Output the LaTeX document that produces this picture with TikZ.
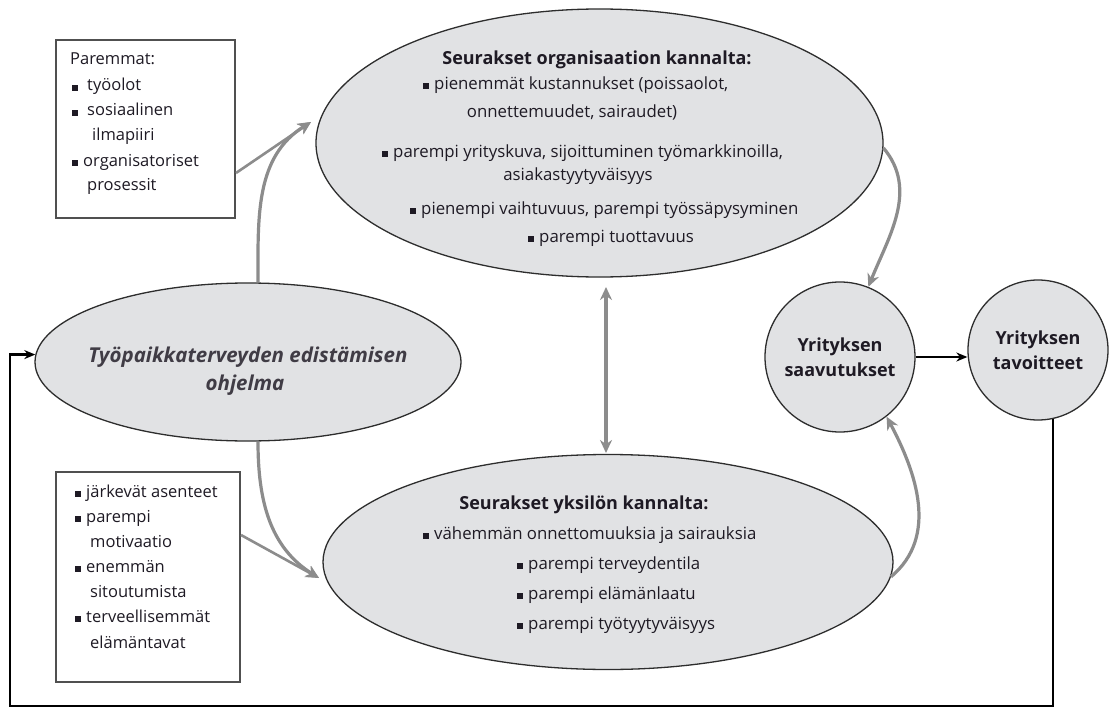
\documentclass[tikz,border=0pt]{standalone}
\usepackage{fontspec}
\setmainfont{Open Sans}
\usetikzlibrary{arrows.meta,shapes.geometric,calc}
\definecolor{elfill}{RGB}{225,226,228}
\definecolor{elline}{RGB}{45,45,45}
\definecolor{garrow}{RGB}{140,140,140}
\definecolor{txtc}{RGB}{30,26,36}
\definecolor{boxline}{RGB}{80,80,80}
\newcommand\bsq{\raisebox{0.5pt}{\rule{6pt}{6pt}}\hspace{5pt}}
\tikzset{
  ell/.style={ellipse,draw=elline,fill=elfill,line width=1.3pt,inner sep=0pt},
  circ/.style={circle,draw=elline,fill=elfill,line width=1.3pt,inner sep=0pt,minimum size=#1,
     align=center,font=\fontsize{18}{25}\selectfont\bfseries,text=txtc},
  rbox/.style={draw=boxline,line width=2pt,inner sep=0pt},
  txt/.style={inner sep=0pt,text=txtc,font=\fontsize{16.8}{19}\selectfont},
  btxt/.style={inner sep=0pt,text=txtc,font=\fontsize{16.5}{19}\selectfont},
  ttl/.style={inner sep=0pt,text=txtc,font=\fontsize{18}{21}\selectfont\bfseries},
  itl/.style={inner sep=0pt,text=txtc!85,font=\fontsize{20.5}{24}\selectfont\bfseries\itshape},
  garr/.style={draw=garrow,line width=3.2pt,-{Stealth[length=13pt,width=12pt]}},
  gline/.style={draw=garrow,line width=2.6pt,-{Stealth[length=13pt,width=12pt]}},
  barr/.style={draw=black,line width=2.2pt,-{Stealth[length=11pt,width=9pt]}},
  fb/.style={draw=black,line width=2.3pt,-{Stealth[length=11pt,width=9pt]}},
}
\begin{document}
\begin{tikzpicture}[x=1pt,y=-1pt]
\useasboundingbox (0,0) rectangle (1109,709);
\fill[white] (0,0) rectangle (1109,709);

% ellipses
\node[ell,minimum width=567,minimum height=268] (te) at (599.5,143) {};
\node[ell,minimum width=426,minimum height=158] (le) at (248,362) {};
\node[ell,minimum width=570,minimum height=215] (be) at (608,562) {};

% circles
\node[circ=150] (sa) at (840,357) {Yrityksen\\saavutukset};
\node[circ=140] (tv) at (1038,350) {Yrityksen\\tavoitteet};

% boxes
\node[rbox,minimum width=179,minimum height=178] (b1) at (145.5,129) {};
\node[rbox,minimum width=184,minimum height=210] (b2) at (148,577) {};

% top box text
\node[btxt,anchor=mid west] (b1t0) at (70,62) {Paremmat:};
\node[btxt,anchor=mid west] (b1t1) at (72,88) {\rule{6pt}{6pt}\hspace{9pt}työolot};
\node[btxt,anchor=mid west] (b1t2) at (72,113) {\rule{6pt}{6pt}\hspace{9pt}sosiaalinen};
\node[btxt,anchor=mid west] (b1t3) at (92,138) {ilmapiiri};
\node[btxt,anchor=mid west] (b1t4) at (72,164) {\bsq organisatoriset};
\node[btxt,anchor=mid west] (b1t5) at (87,188) {prosessit};

% bottom box text
\node[btxt,anchor=mid west] (b2t1) at (75,495) {\bsq järkevät asenteet};
\node[btxt,anchor=mid west] (b2t2) at (75,520) {\bsq parempi};
\node[btxt,anchor=mid west] (b2t3) at (90,545) {motivaatio};
\node[btxt,anchor=mid west] (b2t4) at (75,570) {\bsq enemmän};
\node[btxt,anchor=mid west] (b2t5) at (90,595) {sitoutumista};
\node[btxt,anchor=mid west] (b2t6) at (75,620) {\bsq terveellisemmät};
\node[btxt,anchor=mid west] (b2t7) at (90,646) {elämäntavat};

% top ellipse text
\node[ttl,anchor=mid] (tet0) at (597,62) {Seurakset organisaation kannalta:};
\node[txt,anchor=mid west] (tet1) at (423,87) {\bsq pienemmät kustannukset (poissaolot,};
\node[txt,anchor=mid] (tet2) at (572,115) {onnettemuudet, sairaudet)};
\node[txt,anchor=mid west] (tet3) at (382,155) {\bsq parempi yrityskuva, sijoittuminen työmarkkinoilla,};
\node[txt,anchor=mid] (tet4) at (578,178) {asiakastyytyväisyys};
\node[txt,anchor=mid west] (tet5) at (410,212) {\bsq pienempi vaihtuvuus, parempi työssäpysyminen};
\node[txt,anchor=mid west] (tet6) at (528,240) {\bsq parempi tuottavuus};

% bottom ellipse text
\node[ttl,anchor=mid] (bet0) at (584,507) {Seurakset yksilön kannalta:};
\node[txt,anchor=mid west] (bet1) at (423,537) {\bsq vähemmän onnettomuuksia ja sairauksia};
\node[txt,anchor=mid west] (bet2) at (517,567) {\bsq parempi terveydentila};
\node[txt,anchor=mid west] (bet3) at (517,597) {\bsq parempi elämänlaatu};
\node[txt,anchor=mid west] (bet4) at (517,627) {\bsq parempi työtyytyväisyys};

% left ellipse text
\node[itl,anchor=mid] (let1) at (248,360) {Työpaikkaterveyden edistämisen};
\node[itl,anchor=mid] (let2) at (245,388) {ohjelma};

% connector coordinates
\coordinate (tA) at (311,122);
\coordinate (tB) at (319,578);
\coordinate (vT) at (606,287);
\coordinate (vB) at (606,453);
\coordinate (fbl) at (10,706);

% gray arrows
\draw[garr] ([xshift=10pt]le.north) to[out=90,in=212] (tA);
\draw[gline] (b1.east |- 0,173) -- (tA);
\draw[garr] ([xshift=10pt]le.south) to[out=-90,in=148] (tB);
\draw[gline] (b2.east |- 0,535) -- (tB);
\draw[draw=garrow,line width=3.2pt,{Stealth[length=13pt,width=12pt]}-{Stealth[length=13pt,width=12pt]}] (vT) -- (vB);
\draw[garr] (te.-1) to[out=-50,in=68] (sa.68);
\draw[garr] (be.-3.5) to[out=40,in=-62] (sa.-52);

% black arrows
\draw[barr] (sa.east) -- (sa.east -| tv.west);
\draw[fb] (tv.-78) |- (fbl) |- (le.178);
\end{tikzpicture}
\end{document}
